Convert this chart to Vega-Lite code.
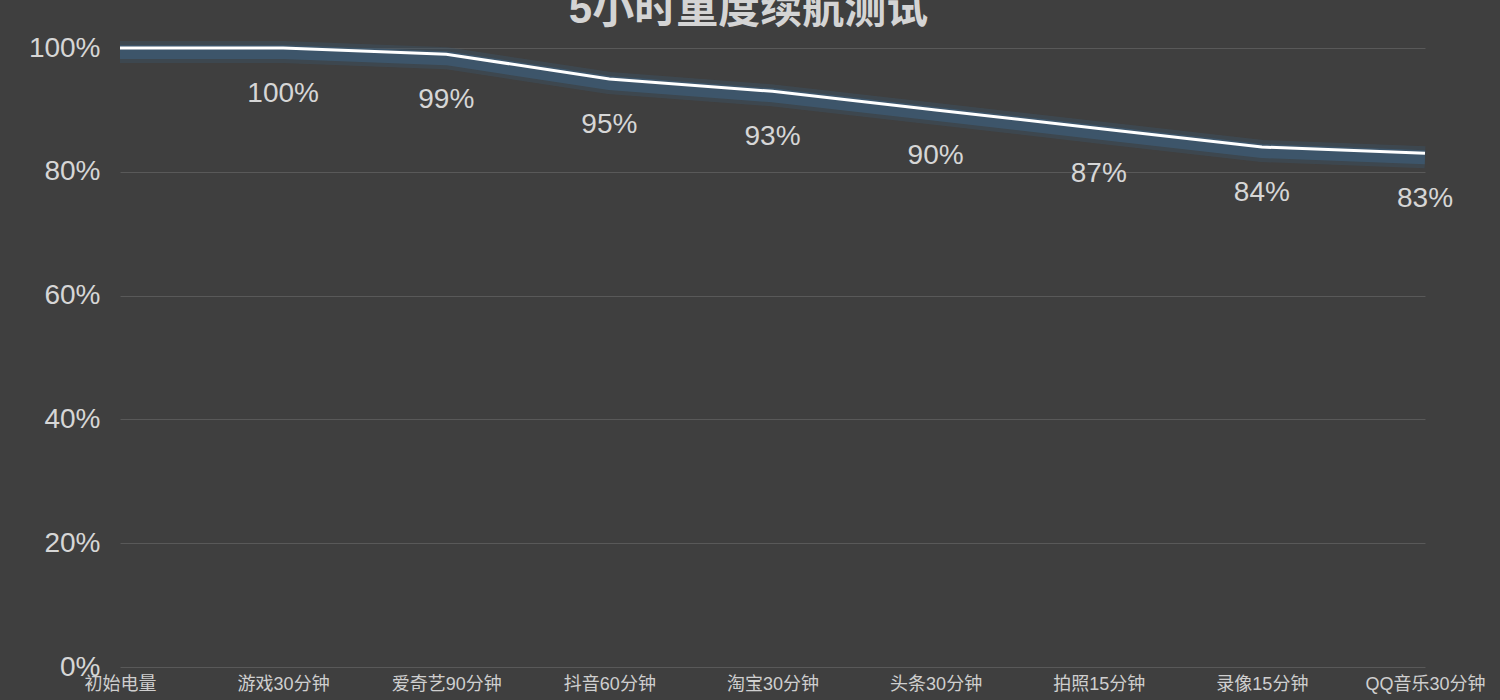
{
  "$schema": "https://vega.github.io/schema/vega-lite/v6.json",
  "width": 1305,
  "height": 619,
  "autosize": {"type": "none"},
  "padding": {"left": 120, "top": 48, "right": 75, "bottom": 33},
  "background": "#3f3f3f",
  "title": {
    "text": "5小时重度续航测试",
    "fontSize": 42,
    "fontWeight": "bold",
    "color": "#d4d4d4",
    "font": "Liberation Sans, Noto Sans CJK SC",
    "anchor": "middle",
    "dx": -24,
    "offset": -24
  },
  "config": {
    "view": {"stroke": null},
    "font": "Liberation Sans, Noto Sans CJK SC"
  },
  "data": {
    "values": [
      {"step": "初始电量", "battery": 100, "label": ""},
      {"step": "游戏30分钟", "battery": 100, "label": "100%"},
      {"step": "爱奇艺90分钟", "battery": 99, "label": "99%"},
      {"step": "抖音60分钟", "battery": 95, "label": "95%"},
      {"step": "淘宝30分钟", "battery": 93, "label": "93%"},
      {"step": "头条30分钟", "battery": 90, "label": "90%"},
      {"step": "拍照15分钟", "battery": 87, "label": "87%"},
      {"step": "录像15分钟", "battery": 84, "label": "84%"},
      {"step": "QQ音乐30分钟", "battery": 83, "label": "83%"}
    ]
  },
  "encoding": {
    "x": {
      "field": "step",
      "type": "ordinal",
      "sort": null,
      "scale": {"type": "point", "padding": 0},
      "axis": {
        "title": null,
        "labelAngle": 0,
        "labelFontSize": 18,
        "labelColor": "#cfcfcf",
        "labelPadding": 8,
        "domain": false,
        "ticks": false,
        "grid": false
      }
    },
    "y": {
      "field": "battery",
      "type": "quantitative",
      "scale": {"domain": [0, 100], "nice": false},
      "axis": {
        "title": null,
        "values": [0, 20, 40, 60, 80, 100],
        "labelExpr": "datum.value + '%'",
        "labelFontSize": 28,
        "labelColor": "#d6d6d6",
        "labelPadding": 20,
        "domain": false,
        "ticks": false,
        "gridColor": "#595959",
        "gridWidth": 1
      }
    }
  },
  "layer": [
    {
      "mark": {"type": "line", "color": "#3b5468", "strokeWidth": 22, "opacity": 0.4, "yOffset": 4},
      "encoding": {}
    },
    {
      "mark": {"type": "line", "color": "#3d586e", "strokeWidth": 14, "opacity": 0.85, "yOffset": 4},
      "encoding": {}
    },
    {
      "mark": {"type": "line", "color": "#ffffff", "strokeWidth": 3},
      "encoding": {}
    },
    {
      "mark": {"type": "text", "dy": 46, "fontSize": 28, "color": "#d6d6d6"},
      "encoding": {
        "text": {"field": "label", "type": "nominal"}
      }
    }
  ]
}
